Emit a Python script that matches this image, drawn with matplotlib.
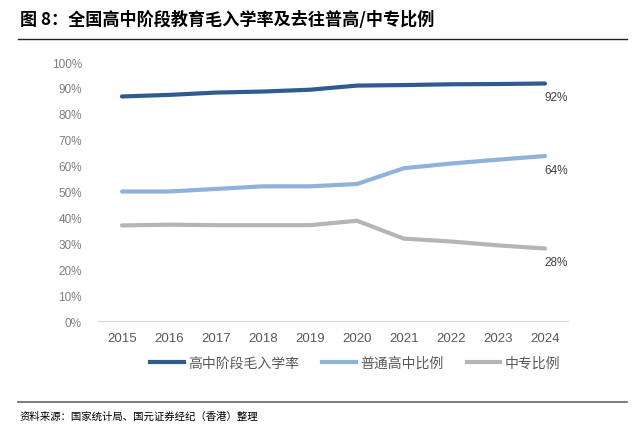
import matplotlib.pyplot as plt
from matplotlib.lines import Line2D

plt.rcParams['font.family'] = ['Liberation Sans', 'Noto Sans CJK SC', 'DejaVu Sans']

years = [2015, 2016, 2017, 2018, 2019, 2020, 2021, 2022, 2023, 2024]
gross_rate = [86.7, 87.3, 88.2, 88.6, 89.3, 90.9, 91.1, 91.4, 91.5, 91.7]
general_high = [50.0, 50.0, 51.0, 52.0, 52.0, 52.9, 59.0, 60.8, 62.3, 63.7]
vocational = [36.9, 37.2, 37.0, 37.0, 37.0, 38.7, 31.8, 30.7, 29.2, 28.0]
end_labels = ['92%', '64%', '28%']
series_names = ['高中阶段毛入学率', '普通高中比例', '中专比例']
colors = ['#2F5B8F', '#8FB2DB', '#B5B5B5']
y_ticks = list(range(0, 101, 10))

fig = plt.figure(figsize=(6.42, 4.31), dpi=100)
ax = fig.add_axes([0.1534, 0.2529, 0.7321, 0.6009])

series = [gross_rate, general_high, vocational]
for vals, c, lab in zip(series, colors, end_labels):
    ax.plot(years, vals, color=c, lw=3, solid_capstyle='round')
    ax.annotate(lab, (years[-1], vals[-1]), xytext=(8, -10), textcoords='offset points',
                ha='center', va='center', fontsize=8.5, color='#404040')

ax.set_xlim(years[0] - 0.5, years[-1] + 0.5)
ax.set_ylim(0, 100)
ax.set_xticks(years)
ax.set_xticklabels([str(y) for y in years], fontsize=9.5, color='#595959')
ax.set_yticks(y_ticks)
ax.set_yticklabels([f'{t}%' for t in y_ticks], fontsize=8.5, color='#7F7F7F')
ax.tick_params(axis='both', length=0)
ax.tick_params(axis='y', pad=12)
ax.tick_params(axis='x', pad=8)
for s in ['top', 'right', 'left']:
    ax.spines[s].set_visible(False)
ax.spines['bottom'].set_color('#D9D9D9')

handles = [Line2D([0], [0], color=c, lw=3) for c in colors]
fig.legend(handles, series_names, loc='center', bbox_to_anchor=(355 / 642, 1 - 364 / 431),
           ncol=3, frameon=False, handlelength=2.4, handletextpad=0.3,
           columnspacing=1.7, prop={'family': ['Noto Sans CJK SC'], 'size': 10})
for t in fig.legends[0].get_texts():
    t.set_color('#595959')

# title and rules
fig.text(20 / 642, 1 - 20 / 431, '图 8：全国高中阶段教育毛入学率及去往普高/中专比例',
         fontsize=12.3, fontweight='bold', va='center', ha='left',
         family=['Noto Sans CJK SC', 'DejaVu Sans'])
fig.add_artist(Line2D([18 / 642, 627 / 642], [1 - 40 / 431, 1 - 40 / 431], color='#222222', lw=1))
fig.add_artist(Line2D([18 / 642, 627 / 642], [1 - 403 / 431, 1 - 403 / 431], color='#666666', lw=1.2))
fig.text(20 / 642, 1 - 417 / 431, '资料来源：国家统计局、国元证券经纪（香港）整理',
         fontsize=7.5, style='italic', va='center', ha='left',
         family=['Noto Sans CJK SC', 'DejaVu Sans'])

fig.savefig('out.png', dpi=100)
